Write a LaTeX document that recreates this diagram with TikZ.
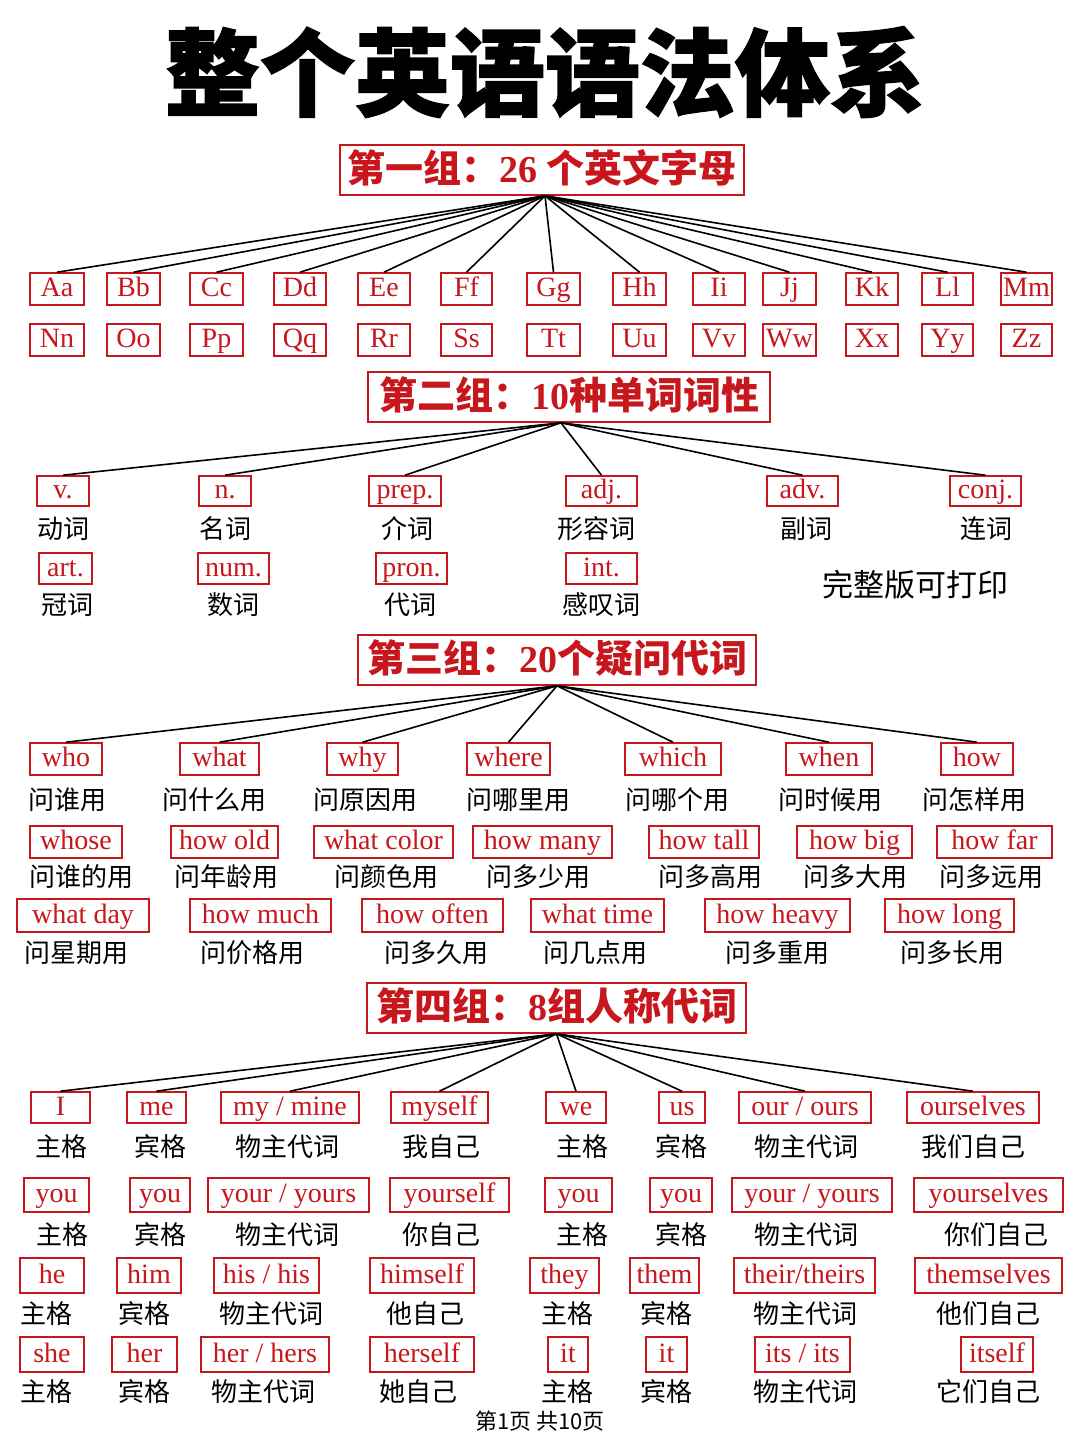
\documentclass[tikz,border=0pt]{standalone}
\usepackage{fontspec}
\setmainfont{Liberation Serif}
\newfontfamily\cjk{Noto Sans CJK SC}
\newfontfamily\cjktitle[BoldFeatures={FakeBold=1.5}]{Noto Sans CJK SC}
\newfontfamily\tmr{Liberation Serif}
\definecolor{myred}{RGB}{200,22,29}
\tikzset{
  wbox/.style={draw=myred, line width=1.6pt, text=myred, inner sep=0pt,
    font=\tmr\fontsize{28}{28}\selectfont, text height=20pt, text depth=5pt},
  lab/.style={font=\cjk\fontsize{26}{26}\selectfont, text=black, inner sep=0pt},
  hdr/.style={draw=myred, line width=1.6pt, text=myred, inner sep=0pt,
    font=\cjk\bfseries\fontsize{38}{38}\selectfont, text height=30pt, text depth=6pt},
  link/.style={line width=1.6pt, black}
}
\newcommand\wbx[6]{\node[wbox, minimum width={#3-#2}, minimum height={#5-#4}] (#1) at ({(#2+#3)/2},{(#4+#5)/2}) {#6};}
\newcommand\lbl[4]{\node[lab] (#1) at (#2,#3) {#4};}
\begin{document}
\begin{tikzpicture}[x=1pt,y=-1pt]
\useasboundingbox (0,0) rectangle (1080,1440);
\fill[white] (0,0) rectangle (1080,1440);
% title
\node[font=\cjktitle\bfseries\fontsize{95}{100}\selectfont, inner sep=0pt] (title) at (545,72) {整个英语语法体系};
% ===== group 1
\node[hdr, minimum width=404, minimum height=50] (g1) at (542,170) {第一组：{\tmr 26} 个英文字母};
\wbx{Aa}{30}{84}{273}{305}{Aa}
\wbx{Bb}{107}{160}{273}{305}{Bb}
\wbx{Cc}{190}{243}{273}{305}{Cc}
\wbx{Dd}{274}{326}{273}{305}{Dd}
\wbx{Ee}{358}{410}{273}{305}{Ee}
\wbx{Ff}{441}{492}{273}{305}{Ff}
\wbx{Gg}{527}{580}{273}{305}{Gg}
\wbx{Hh}{613}{666}{273}{305}{Hh}
\wbx{Ii}{693}{745}{273}{305}{Ii}
\wbx{Jj}{763}{816}{273}{305}{Jj}
\wbx{Kk}{846}{898}{273}{305}{Kk}
\wbx{Ll}{922}{973}{273}{305}{Ll}
\wbx{Mm}{1001}{1052}{273}{305}{Mm}
\wbx{Nn}{30}{84}{324}{356}{Nn}
\wbx{Oo}{107}{160}{324}{356}{Oo}
\wbx{Pp}{190}{243}{324}{356}{Pp}
\wbx{Qq}{274}{326}{324}{356}{Qq}
\wbx{Rr}{358}{410}{324}{356}{Rr}
\wbx{Ss}{441}{492}{324}{356}{Ss}
\wbx{Tt}{527}{580}{324}{356}{Tt}
\wbx{Uu}{613}{666}{324}{356}{Uu}
\wbx{Vv}{693}{745}{324}{356}{Vv}
\wbx{Ww}{763}{816}{324}{356}{Ww}
\wbx{Xx}{846}{898}{324}{356}{Xx}
\wbx{Yy}{922}{973}{324}{356}{Yy}
\wbx{Zz}{1001}{1052}{324}{356}{Zz}
\foreach \n in {Aa,Bb,Cc,Dd,Ee,Ff,Gg,Hh,Ii,Jj,Kk,Ll,Mm}
  \draw[link] ([xshift=3pt]g1.south) -- (\n.north);
% ===== group 2
\node[hdr, minimum width=402, minimum height=50] (g2) at (569,397) {第二组：{\tmr 10}种单词词性};
\wbx{t1}{37}{89}{476}{506}{v.}
\wbx{t2}{199}{251}{476}{506}{n.}
\wbx{t3}{369}{441}{476}{506}{prep.}
\wbx{t4}{566}{637}{476}{506}{adj.}
\wbx{t5}{767}{838}{476}{506}{adv.}
\wbx{t6}{950}{1021}{476}{506}{conj.}
\lbl{d1}{63}{529}{动词}
\lbl{d2}{225}{529}{名词}
\lbl{d3}{407}{529}{介词}
\lbl{d4}{596}{529}{形容词}
\lbl{d5}{806}{529}{副词}
\lbl{d6}{986}{529}{连词}
\wbx{t7}{39}{92}{553}{584}{art.}
\wbx{t8}{198}{269}{553}{584}{num.}
\wbx{t9}{376}{447}{553}{584}{pron.}
\wbx{t10}{566}{637}{553}{584}{int.}
\lbl{d7}{67}{605}{冠词}
\lbl{d8}{233}{605}{数词}
\lbl{d9}{410}{605}{代词}
\lbl{d10}{601}{605}{感叹词}
\node[font=\cjk\fontsize{31}{31}\selectfont, inner sep=0pt] (note) at (915,585) {完整版可打印};
\foreach \n in {t1,t2,t3,t4,t5,t6}
  \draw[link] ([xshift=-8pt]g2.south) -- (\n.north);
% ===== group 3
\node[hdr, minimum width=398, minimum height=50] (g3) at (557,660) {第三组：{\tmr 20}个疑问代词};
\wbx{w11}{30}{102}{743}{775}{who}
\wbx{w12}{180}{259}{743}{775}{what}
\wbx{w13}{327}{398}{743}{775}{why}
\wbx{w14}{467}{550}{743}{775}{where}
\wbx{w15}{625}{721}{743}{775}{which}
\wbx{w16}{786}{872}{743}{775}{when}
\wbx{w17}{941}{1013}{743}{775}{how}
\lbl{m11}{67}{800}{问谁用}
\lbl{m12}{214}{800}{问什么用}
\lbl{m13}{365}{800}{问原因用}
\lbl{m14}{518}{800}{问哪里用}
\lbl{m15}{677}{800}{问哪个用}
\lbl{m16}{830}{800}{问时候用}
\lbl{m17}{974}{800}{问怎样用}
\wbx{w21}{30}{122}{826}{858}{whose}
\wbx{w22}{171}{278}{826}{858}{how old}
\wbx{w23}{314}{453}{826}{858}{what color}
\wbx{w24}{473}{612}{826}{858}{how many}
\wbx{w25}{649}{759}{826}{858}{how tall}
\wbx{w26}{797}{912}{826}{858}{how big}
\wbx{w27}{937}{1052}{826}{858}{how far}
\lbl{m21}{81}{877}{问谁的用}
\lbl{m22}{226}{877}{问年龄用}
\lbl{m23}{386}{877}{问颜色用}
\lbl{m24}{538}{877}{问多少用}
\lbl{m25}{710}{877}{问多高用}
\lbl{m26}{855}{877}{问多大用}
\lbl{m27}{991}{877}{问多远用}
\wbx{w31}{17}{149}{899}{932}{what day}
\wbx{w32}{190}{331}{899}{932}{how much}
\wbx{w33}{362}{503}{899}{932}{how often}
\wbx{w34}{531}{664}{899}{932}{what time}
\wbx{w35}{705}{850}{899}{932}{how heavy}
\wbx{w36}{885}{1014}{899}{932}{how long}
\lbl{m31}{76}{953}{问星期用}
\lbl{m32}{252}{953}{问价格用}
\lbl{m33}{436}{953}{问多久用}
\lbl{m34}{595}{953}{问几点用}
\lbl{m35}{777}{953}{问多重用}
\lbl{m36}{952}{953}{问多长用}
\foreach \n in {w11,w12,w13,w14,w15,w16,w17}
  \draw[link] (g3.south) -- (\n.north);
% ===== group 4
\node[hdr, minimum width=379, minimum height=50] (g4) at (556.5,1008) {第四组：{\tmr 8}组人称代词};
\wbx{p11}{31}{90}{1092}{1123}{I}
\wbx{p12}{127}{186}{1092}{1123}{me}
\wbx{p13}{221}{359}{1092}{1123}{my / mine}
\wbx{p14}{391}{488}{1092}{1123}{myself}
\wbx{p15}{546}{606}{1092}{1123}{we}
\wbx{p16}{659}{705}{1092}{1123}{us}
\wbx{p17}{739}{871}{1092}{1123}{our / ours}
\wbx{p18}{907}{1039}{1092}{1123}{ourselves}
\lbl{q11}{61}{1147}{主格}
\lbl{q12}{160}{1147}{宾格}
\lbl{q13}{287}{1147}{物主代词}
\lbl{q14}{441}{1147}{我自己}
\lbl{q15}{582}{1147}{主格}
\lbl{q16}{681}{1147}{宾格}
\lbl{q17}{806}{1147}{物主代词}
\lbl{q18}{973}{1147}{我们自己}
\wbx{p21}{24}{89}{1178}{1212}{you}
\wbx{p22}{130}{190}{1178}{1212}{you}
\wbx{p23}{208}{369}{1178}{1212}{your / yours}
\wbx{p24}{390}{509}{1178}{1212}{yourself}
\wbx{p25}{545}{612}{1178}{1212}{you}
\wbx{p26}{650}{712}{1178}{1212}{you}
\wbx{p27}{732}{892}{1178}{1212}{your / yours}
\wbx{p28}{914}{1063}{1178}{1212}{yourselves}
\lbl{q21}{62}{1235}{主格}
\lbl{q22}{160}{1235}{宾格}
\lbl{q23}{287}{1235}{物主代词}
\lbl{q24}{441}{1235}{你自己}
\lbl{q25}{582}{1235}{主格}
\lbl{q26}{681}{1235}{宾格}
\lbl{q27}{806}{1235}{物主代词}
\lbl{q28}{996}{1235}{你们自己}
\wbx{p31}{20}{84}{1258}{1293}{he}
\wbx{p32}{117}{181}{1258}{1293}{him}
\wbx{p33}{214}{319}{1258}{1293}{his / his}
\wbx{p34}{370}{474}{1258}{1293}{himself}
\wbx{p35}{530}{599}{1258}{1293}{they}
\wbx{p36}{630}{699}{1258}{1293}{them}
\wbx{p37}{734}{875}{1258}{1293}{their/theirs}
\wbx{p38}{915}{1062}{1258}{1293}{themselves}
\lbl{q31}{46}{1314}{主格}
\lbl{q32}{144}{1314}{宾格}
\lbl{q33}{271}{1314}{物主代词}
\lbl{q34}{425}{1314}{他自己}
\lbl{q35}{567}{1314}{主格}
\lbl{q36}{666}{1314}{宾格}
\lbl{q37}{805}{1314}{物主代词}
\lbl{q38}{988}{1314}{他们自己}
\wbx{p41}{20}{84}{1337}{1372}{she}
\wbx{p42}{112}{177}{1337}{1372}{her}
\wbx{p43}{201}{329}{1337}{1372}{her / hers}
\wbx{p44}{370}{474}{1337}{1372}{herself}
\wbx{p45}{548}{588}{1337}{1372}{it}
\wbx{p46}{646}{687}{1337}{1372}{it}
\wbx{p47}{755}{850}{1337}{1372}{its / its}
\wbx{p48}{961}{1033}{1337}{1372}{itself}
\lbl{q41}{46}{1392}{主格}
\lbl{q42}{144}{1392}{宾格}
\lbl{q43}{263}{1392}{物主代词}
\lbl{q44}{418}{1392}{她自己}
\lbl{q45}{567}{1392}{主格}
\lbl{q46}{666}{1392}{宾格}
\lbl{q47}{805}{1392}{物主代词}
\lbl{q48}{988}{1392}{它们自己}
\foreach \n in {p11,p12,p13,p14,p15,p16,p17,p18}
  \draw[link] (g4.south) -- (\n.north);
% footer
\node[font=\cjk\fontsize{22}{22}\selectfont, inner sep=0pt] (foot) at (540,1421) {第1页 共10页};
\end{tikzpicture}
\end{document}
